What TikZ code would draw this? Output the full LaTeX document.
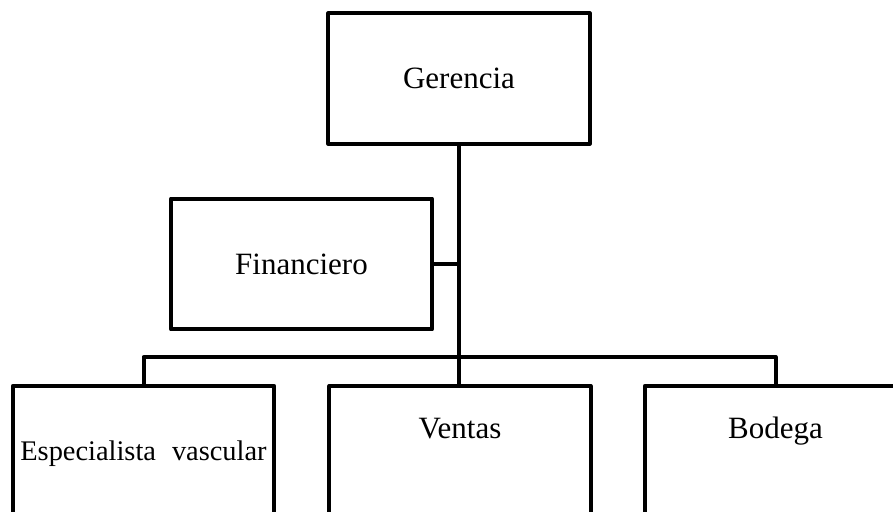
\documentclass[tikz,border=0pt]{standalone}
\usepackage{fontspec}
\setmainfont{Liberation Serif}

\begin{document}
\begin{tikzpicture}[x=0.75pt, y=-0.75pt,
	unit/.style={draw, line width=3pt, line join=round, minimum width=196pt, minimum height=98pt, font=\fontsize{23.25}{28}\selectfont},
	lowunit/.style={unit, minimum height=0pt, inner ysep=0pt, text depth=200pt, anchor=north},
	link/.style={line width=3pt, line join=round}]
	
	\useasboundingbox (0,0) rectangle (893,511);
	\clip (0,0) rectangle (893,511);
	
	\node [unit]                        (gerencia)     at (459,78.5)  {Gerencia};
	\node [unit]                        (financiero)   at (301.5,264) {Financiero};
	
	\node [lowunit, text height=56pt]   (especialista) at (143.5,384) {\fontsize{21.3}{26}\selectfont Especialista\hspace{12pt}vascular};
	\node [lowunit, text height=39pt]   (ventas)       at (460,384)   {Ventas};
	\node [lowunit, text height=39pt]   (bodega)       at (775.5,384) {Bodega};
	
	\coordinate (bus) at (459,357);
	
	\draw [link] (gerencia.south)   -- (gerencia.south |- ventas.north);
	\draw [link] (financiero.east)  -- (financiero.east -| gerencia.south);
	\draw [link] (especialista.north) |- (bus) -| (bodega.north);
	
\end{tikzpicture}
\end{document}
